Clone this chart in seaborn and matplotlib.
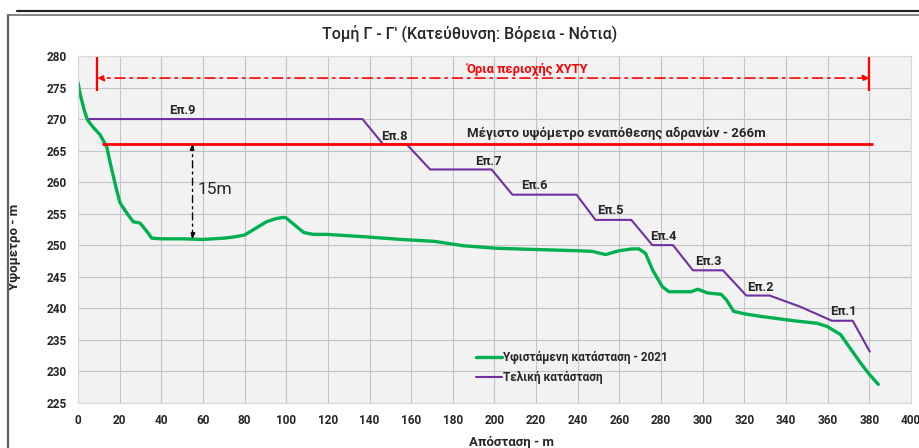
import matplotlib
matplotlib.use("Agg")
import matplotlib.pyplot as plt
import seaborn as sns
import pandas as pd
from matplotlib.lines import Line2D

# Υφιστάμενη κατάσταση - 2021 (απόσταση, υψόμετρο)
green_x = [0, 1, 3, 4.5, 7, 10.6, 13.8, 15.5, 17, 18.5, 20.2, 23.4, 26.5, 29.8, 33, 35.4,
           40, 50, 60, 70, 75, 80, 85, 90.5, 95, 98.6, 100, 104, 108.4, 113, 119.5,
           138.7, 155, 171, 185, 201, 220, 240.6, 247, 253.3, 259.7, 266, 269.3, 272.5,
           276, 280.6, 283.8, 290, 294.4, 297.6, 302.4, 308.8, 311.4, 314.8, 320, 327.7,
           343.7, 354.9, 359.7, 366.2, 370, 375.8, 380, 384.3]
green_y = [275.8, 274, 271.4, 269.9, 268.8, 267.5, 265.6, 263, 260.9, 258.8, 256.7, 255.1,
           253.7, 253.5, 252.2, 251.1, 251, 251, 250.9, 251.1, 251.3, 251.6, 252.6, 253.7,
           254.2, 254.4, 254.3, 253.2, 252, 251.7, 251.7, 251.3, 250.9, 250.6, 249.9,
           249.5, 249.3, 249.1, 249.0, 248.5, 249.1, 249.4, 249.4, 248.7, 246, 243.4,
           242.6, 242.6, 242.6, 243, 242.4, 242.2, 241.3, 239.5, 239.1, 238.7, 238,
           237.6, 237.1, 235.8, 234, 231.3, 229.5, 227.9]

# Τελική κατάσταση
purple_x = [5.4, 136.6, 146.5, 157.8, 169.1, 198.6, 208.6, 239.4, 248.5, 265.7, 275.8,
            285.7, 295.3, 309.7, 320.9, 332.1, 347, 362, 372, 380.2]
purple_y = [270, 270, 266, 266, 262, 262, 258, 258, 254, 254, 250, 250, 246, 246, 242,
            242, 240.2, 238, 238, 233.1]

# ετικέτες επιπέδων
step_labels = ["Επ.9", "Επ.8", "Επ.7", "Επ.6", "Επ.5", "Επ.4", "Επ.3", "Επ.2", "Επ.1"]
step_label_x = [50, 152, 197, 219, 255.5, 281, 302.5, 327.5, 367.5]
step_label_y = [271.3, 267.3, 263.3, 259.5, 255.5, 251.4, 247.4, 243.3, 239.4]

max_level = 266
max_level_span = [11.3, 381.8]
zone_limits = [9.3, 380]
zone_arrow_y = 276.5
gap_x = 55
gap_bottom = 251

sns.set_style("whitegrid", {"axes.facecolor": "#f2f2f2", "grid.color": "#c4c4c4",
                            "axes.edgecolor": "#d9d9d9"})
plt.rcParams['font.family'] = ['Roboto', 'DejaVu Sans']

fig = plt.figure(figsize=(9.2, 4.48), dpi=100)
ax = fig.add_axes([78 / 920, 1 - 402.7 / 448, 833 / 920, 346.7 / 448])

df_g = pd.DataFrame({"x": green_x, "y": green_y})
df_p = pd.DataFrame({"x": purple_x, "y": purple_y})
sns.lineplot(data=df_g, x="x", y="y", ax=ax, color="#00b050", lw=2.4, sort=False,
             label="Υφιστάμενη κατάσταση - 2021")
sns.lineplot(data=df_p, x="x", y="y", ax=ax, color="#7030a0", lw=1.5, sort=False,
             label="Τελική κατάσταση")

# μέγιστο υψόμετρο
ax.hlines(max_level, max_level_span[0], max_level_span[1], color="red", lw=2)
ax.text(186.8, 267.7, "Μέγιστο υψόμετρο εναπόθεσης αδρανών - 266m", fontsize=9.5,
        fontweight="bold", va="center", ha="left")

# όρια ΧΥΤΥ
ax.vlines(zone_limits, 274.5, 280, color="red", lw=1.6)
ax.annotate("", xy=(zone_limits[0], zone_arrow_y), xytext=(zone_limits[1], zone_arrow_y),
            arrowprops=dict(arrowstyle="<|-|>", color="red", lw=1.2,
                            ls=(0, (6, 3, 1.5, 3)), mutation_scale=9, shrinkA=0, shrinkB=0))
ax.text(215.8, 277.9, "Όρια περιοχής ΧΥΤΥ", color="red", fontsize=9.3, fontweight="bold",
        ha="center", va="center")

# 15m
ax.annotate("", xy=(gap_x, max_level), xytext=(gap_x, gap_bottom),
            arrowprops=dict(arrowstyle="<|-|>", color="black", lw=1,
                            ls=(0, (5, 3, 1.5, 3)), mutation_scale=8, shrinkA=0, shrinkB=0))
ax.text(57.2, 258.8, "15m", fontsize=12.5, va="center", ha="left")

for lab, lx, ly in zip(step_labels, step_label_x, step_label_y):
    ax.text(lx, ly, lab, fontsize=9.3, fontweight="bold", ha="center", va="center")

ax.set_xlim(0, 400)
ax.set_ylim(225, 280)
ax.set_xticks(range(0, 401, 20))
ax.set_yticks(range(225, 281, 5))
ax.tick_params(length=0, labelsize=8.5, pad=8)
for t in ax.get_xticklabels() + ax.get_yticklabels():
    t.set_fontweight("bold")
ax.set_xlabel("Απόσταση - m", fontsize=9.5, fontweight="bold")
ax.set_ylabel("Υψόμετρο - m", fontsize=9.5, fontweight="bold")
ax.xaxis.set_label_coords(0.52, -0.095)
ax.yaxis.set_label_coords(-0.068, 0.45)
ax.set_title("Τομή Γ - Γ' (Κατεύθυνση: Βόρεια - Νότια)", fontsize=11.5, pad=12, x=0.47,
             fontweight="medium")

leg = ax.legend(loc="upper left", bbox_to_anchor=(0.465, 0.18), frameon=False,
                handlelength=2.2, handletextpad=0.1, fontsize=8.5, labelspacing=0.6)
for t in leg.get_texts():
    t.set_fontweight("bold")

# πλαίσιο
fig.add_artist(Line2D([8 / 920, 8 / 920], [0, 1 - 15 / 448], color="#606060", lw=1.6))
fig.add_artist(Line2D([8 / 920, 1], [1 - 15 / 448, 1 - 15 / 448], color="#707070", lw=1.2))
fig.add_artist(Line2D([17 / 920, 1], [1 - 11.5 / 448, 1 - 11.5 / 448], color="#222222", lw=1.6))

fig.savefig("out.png", dpi=100)
